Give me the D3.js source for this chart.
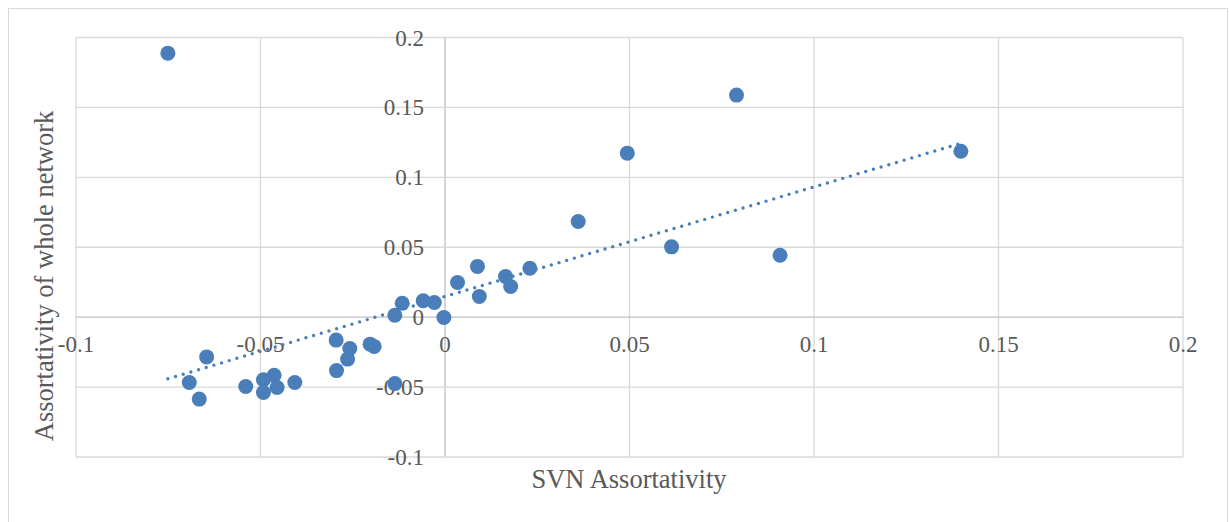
<!DOCTYPE html>
<html>
<head>
<meta charset="utf-8">
<script src="https://cdn.jsdelivr.net/npm/d3@7"></script>
<style>
  body { margin: 0; background: #fff; }
  text { font-family: "Liberation Serif", "Times New Roman", serif; fill: #595959; }
</style>
</head>
<body>
<div id="chart"></div>
<script>
// SVN assortativity (x) vs assortativity of whole network (y)
var svnX = [-0.0751, 0.0790, 0.0494, 0.1398, 0.0361, 0.0614, 0.0908, 0.0088, 0.0230, 0.0164,
            0.0178, 0.0034, 0.0093, -0.0003, -0.0116, -0.0059, -0.0029, -0.0136, -0.0295, -0.0258,
            -0.0203, -0.0192, -0.0264, -0.0294, -0.0136, -0.0646, -0.0693, -0.0666, -0.0540, -0.0492,
            -0.0463, -0.0492, -0.0455, -0.0407];
var wholeY = [0.1888, 0.1588, 0.1173, 0.1187, 0.0684, 0.0503, 0.0443, 0.0363, 0.0350, 0.0291,
              0.0219, 0.0248, 0.0148, -0.0002, 0.0100, 0.0117, 0.0105, 0.0014, -0.0164, -0.0224,
              -0.0193, -0.0209, -0.0300, -0.0382, -0.0475, -0.0284, -0.0467, -0.0586, -0.0496, -0.0448,
              -0.0415, -0.0539, -0.0503, -0.0467];
var xTicks = [-0.1, -0.05, 0, 0.05, 0.1, 0.15, 0.2];
var yTicks = [-0.1, -0.05, 0, 0.05, 0.1, 0.15, 0.2];

var svgWidth = 1229;
var svgHeight = 522;
var margin = {left: 76, top: 37.5, right: 46, bottom: 65};
var width = 1183 - margin.left;
var height = 457 - margin.top;

var svg = d3.select("#chart").append("svg")
  .attr("width", svgWidth)
  .attr("height", svgHeight);

// chart border
svg.append("rect")
  .attr("x", 8.5).attr("y", 8.5)
  .attr("width", 1219).attr("height", 520)
  .attr("fill", "none")
  .attr("stroke", "#d9d9d9")
  .attr("stroke-width", 1);

var g = svg.append("g")
  .attr("transform", "translate(" + margin.left + "," + margin.top + ")");

var xScale = d3.scaleLinear().domain([-0.1, 0.2]).range([0, width]);
var yScale = d3.scaleLinear().domain([-0.1, 0.2]).range([height, 0]);

// gridlines
g.append("g").selectAll("line").data(xTicks).enter()
  .append("line")
  .attr("x1", d => xScale(d)).attr("x2", d => xScale(d))
  .attr("y1", 0).attr("y2", height)
  .attr("stroke", d => d === 0 ? "#bfbfbf" : "#d9d9d9")
  .attr("stroke-width", 1.3);

g.append("g").selectAll("line").data(yTicks).enter()
  .append("line")
  .attr("x1", 0).attr("x2", width)
  .attr("y1", d => yScale(d)).attr("y2", d => yScale(d))
  .attr("stroke", d => d === 0 ? "#bfbfbf" : "#d9d9d9")
  .attr("stroke-width", 1.3);

// tick labels: x under the y=0 axis, y left of the x=0 axis (plain hyphen minus like Excel)
var fmt = d => String(d);
g.append("g").selectAll("text").data(xTicks).enter()
  .append("text")
  .attr("x", d => xScale(d))
  .attr("y", yScale(0) + 35)
  .attr("text-anchor", "middle")
  .attr("font-family", "Liberation Serif")
  .attr("font-size", "23px")
  .text(fmt);

g.append("g").selectAll("text").data(yTicks).enter()
  .append("text")
  .attr("x", xScale(0) - 21)
  .attr("y", d => yScale(d) + 8)
  .attr("text-anchor", "end")
  .attr("font-family", "Liberation Serif")
  .attr("font-size", "23px")
  .text(fmt);

// linear trendline (least squares) over the data range
var n = svnX.length;
var mx = d3.mean(svnX), my = d3.mean(wholeY);
var sxy = 0, sxx = 0;
for (var i = 0; i < n; i++) {
  sxy += (svnX[i] - mx) * (wholeY[i] - my);
  sxx += (svnX[i] - mx) * (svnX[i] - mx);
}
var slope = sxy / sxx;
var icpt = my - slope * mx;
var xExt = d3.extent(svnX);

g.append("line")
  .attr("x1", xScale(xExt[0])).attr("y1", yScale(icpt + slope * xExt[0]))
  .attr("x2", xScale(xExt[1])).attr("y2", yScale(icpt + slope * xExt[1]))
  .attr("stroke", "#4a7ebb")
  .attr("stroke-width", 3.4)
  .attr("stroke-linecap", "round")
  .attr("stroke-dasharray", "0,8");

// points
var pts = svnX.map((d, i) => ({x: d, y: wholeY[i]}));
g.append("g").selectAll("circle").data(pts).enter()
  .append("circle")
  .attr("cx", d => xScale(d.x))
  .attr("cy", d => yScale(d.y))
  .attr("r", 7.5)
  .attr("fill", "#4a7ebb");

// axis titles
svg.append("text")
  .attr("x", 629)
  .attr("y", 488)
  .attr("text-anchor", "middle")
  .attr("font-size", "26.5px")
  .text("SVN Assortativity");

svg.append("text")
  .attr("transform", "translate(53,276) rotate(-90)")
  .attr("text-anchor", "middle")
  .attr("font-size", "26.5px")
  .text("Assortativity of whole network");
</script>
</body>
</html>
